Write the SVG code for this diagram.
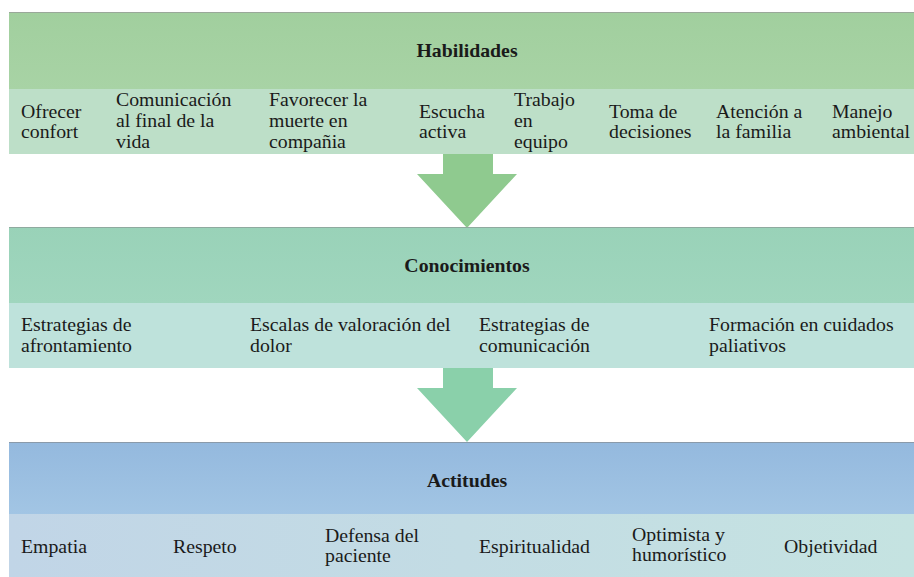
<svg xmlns="http://www.w3.org/2000/svg" width="914" height="577" viewBox="0 0 914 577">
<style>
.t{font-family:'Liberation Serif','DejaVu Serif',serif;font-size:18px;fill:#1a1a1a}
.h{font-weight:bold;text-anchor:middle}
</style>
<defs>
<linearGradient id="g1" x1="0" y1="0" x2="0" y2="1"><stop offset="0" stop-color="#a1cf9e"/><stop offset="1" stop-color="#a8d3a5"/></linearGradient>
<linearGradient id="g2" x1="0" y1="0" x2="0" y2="1"><stop offset="0" stop-color="#99d2b8"/><stop offset="1" stop-color="#a0d6be"/></linearGradient>
<linearGradient id="g3" x1="0" y1="0" x2="0" y2="1"><stop offset="0" stop-color="#94b9de"/><stop offset="1" stop-color="#a2c5e4"/></linearGradient>
<linearGradient id="s3" x1="0" y1="0" x2="1" y2="0"><stop offset="0" stop-color="#c1d5e7"/><stop offset="1" stop-color="#c5e3e1"/></linearGradient>
</defs>
<rect width="914" height="577" fill="#ffffff"/>

<g id="connectors">
<polygon points="443,153 493,153 493,174 517,174 467,228 417,174 443,174" fill="#8fca8f"/>
<polygon points="443,368 493,368 493,388 517,388 467,442 417,388 443,388" fill="#8ad0aa"/>
</g>

<g id="habilidades" class="t" font-family="Liberation Serif, DejaVu Serif, serif">
<rect x="9" y="12" width="905" height="77" fill="url(#g1)"/>
<line x1="9" y1="12.5" x2="914" y2="12.5" stroke="#9aa89a" stroke-width="1"/>
<rect x="9" y="89" width="905" height="65" fill="#bddfc8"/>
<text class="t h" transform="translate(467,57) scale(1.1,1)">Habilidades</text>
<text class="t" transform="translate(21,118) scale(1.1,1)"><tspan x="0">Ofrecer</tspan><tspan x="0" dy="20">confort</tspan></text>
<text class="t" transform="translate(116,106) scale(1.1,1)"><tspan x="0">Comunicación</tspan><tspan x="0" dy="21">al final de la</tspan><tspan x="0" dy="21">vida</tspan></text>
<text class="t" transform="translate(269,106) scale(1.1,1)"><tspan x="0">Favorecer la</tspan><tspan x="0" dy="21">muerte en</tspan><tspan x="0" dy="21">compañia</tspan></text>
<text class="t" transform="translate(419,118) scale(1.1,1)"><tspan x="0">Escucha</tspan><tspan x="0" dy="20">activa</tspan></text>
<text class="t" transform="translate(514,106) scale(1.1,1)"><tspan x="0">Trabajo</tspan><tspan x="0" dy="21">en</tspan><tspan x="0" dy="21">equipo</tspan></text>
<text class="t" transform="translate(609,118) scale(1.1,1)"><tspan x="0">Toma de</tspan><tspan x="0" dy="20">decisiones</tspan></text>
<text class="t" transform="translate(716,118) scale(1.1,1)"><tspan x="0">Atención a</tspan><tspan x="0" dy="20">la familia</tspan></text>
<text class="t" transform="translate(832,118) scale(1.1,1)"><tspan x="0">Manejo</tspan><tspan x="0" dy="20">ambiental</tspan></text>
</g>

<g id="conocimientos" class="t">
<rect x="9" y="227" width="905" height="76" fill="url(#g2)"/>
<line x1="9" y1="227.5" x2="914" y2="227.5" stroke="#8faa9f" stroke-width="1"/>
<rect x="9" y="303" width="905" height="65" fill="#bee2db"/>
<text class="t h" transform="translate(467,272) scale(1.1,1)">Conocimientos</text>
<text class="t" transform="translate(21,331) scale(1.1,1)"><tspan x="0">Estrategias de</tspan><tspan x="0" dy="21">afrontamiento</tspan></text>
<text class="t" transform="translate(250,331) scale(1.1,1)"><tspan x="0">Escalas de valoración del</tspan><tspan x="0" dy="21">dolor</tspan></text>
<text class="t" transform="translate(479,331) scale(1.1,1)"><tspan x="0">Estrategias de</tspan><tspan x="0" dy="21">comunicación</tspan></text>
<text class="t" transform="translate(709,331) scale(1.1,1)"><tspan x="0">Formación en cuidados</tspan><tspan x="0" dy="21">paliativos</tspan></text>
</g>

<g id="actitudes" class="t">
<rect x="9" y="442" width="905" height="72" fill="url(#g3)"/>
<line x1="9" y1="442.5" x2="914" y2="442.5" stroke="#8a9aaa" stroke-width="1"/>
<rect x="9" y="514" width="905" height="63" fill="url(#s3)"/>
<text class="t h" transform="translate(467,487) scale(1.1,1)">Actitudes</text>
<text class="t" transform="translate(21,553) scale(1.1,1)">Empatia</text>
<text class="t" transform="translate(173,553) scale(1.1,1)">Respeto</text>
<text class="t" transform="translate(325,542) scale(1.1,1)"><tspan x="0">Defensa del</tspan><tspan x="0" dy="20">paciente</tspan></text>
<text class="t" transform="translate(479,553) scale(1.1,1)">Espiritualidad</text>
<text class="t" transform="translate(632,541) scale(1.1,1)"><tspan x="0">Optimista y</tspan><tspan x="0" dy="20">humorístico</tspan></text>
<text class="t" transform="translate(784,553) scale(1.1,1)">Objetividad</text>
</g>
</svg>
